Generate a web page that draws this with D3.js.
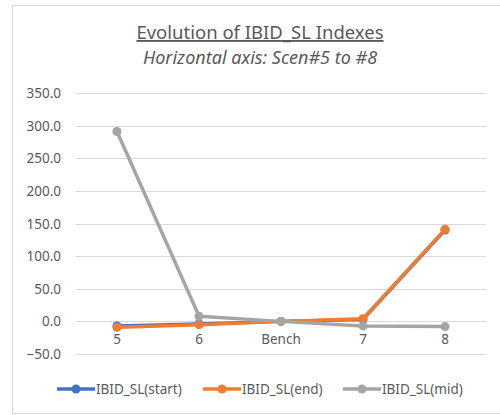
<!DOCTYPE html>
<html>
<head>
<meta charset="utf-8">
<script src="https://cdn.jsdelivr.net/npm/d3@7"></script>
<style>
  body { margin: 0; background: #fff; }
  text { font-family: "Noto Sans", "Open Sans", sans-serif; }
</style>
</head>
<body>
<div id="chart"></div>
<script>
// data
const categories = ["5", "6", "Bench", "7", "8"];
const startValues = [-7, -4, 0, 3, 140];
const endValues = [-9, -5, 0, 4, 141];
const midValues = [291, 8, 0, -7, -8];
const yTicks = [-50, 0, 50, 100, 150, 200, 250, 300, 350];

const series = [
    {name: "IBID_SL(start)", color: "#4472c4", values: startValues},
    {name: "IBID_SL(end)", color: "#ed7d31", values: endValues},
    {name: "IBID_SL(mid)", color: "#a5a5a5", values: midValues}
];

const W = 500, H = 415;
const margin = {top: 93, bottom: 61, left: 76, right: 14};

let svg = d3.select("#chart")
    .append("svg")
    .attr("width", W)
    .attr("height", H);

// chart border
svg.append("rect")
    .attr("x", 12.5).attr("y", 5.5)
    .attr("width", 500).attr("height", 408)
    .attr("fill", "none")
    .attr("stroke", "#d9d9d9");

// titles
svg.append("text")
    .attr("x", 260).attr("y", 39)
    .attr("text-anchor", "middle")
    .attr("font-size", 18.5)
    .attr("fill", "#595959")
    .attr("text-decoration", "underline")
    .text("Evolution of IBID_SL Indexes");

svg.append("text")
    .attr("x", 260).attr("y", 64)
    .attr("text-anchor", "middle")
    .attr("font-size", 18)
    .attr("font-style", "italic")
    .attr("fill", "#595959")
    .text("Horizontal axis: Scen#5 to #8");

let x = d3.scaleBand()
    .domain(categories)
    .range([margin.left, W - margin.right]);

let y = d3.scaleLinear()
    .domain([-50, 350])
    .range([H - margin.bottom, margin.top]);

// gridlines
svg.append("g")
    .selectAll("line")
    .data(yTicks)
    .enter()
    .append("line")
    .attr("x1", margin.left).attr("x2", W - margin.right)
    .attr("y1", d => Math.round(y(d)) + 0.5)
    .attr("y2", d => Math.round(y(d)) + 0.5)
    .attr("stroke", "#d9d9d9")
    .attr("stroke-width", 1);

// y axis labels
svg.append("g")
    .selectAll("text")
    .data(yTicks)
    .enter()
    .append("text")
    .attr("x", 61)
    .attr("y", d => y(d) + 5)
    .attr("text-anchor", "end")
    .attr("font-size", 13.5)
    .attr("fill", "#595959")
    .text(d => d3.format(".1f")(d));

// category labels sit just under the zero line
svg.append("g")
    .selectAll("text")
    .data(categories)
    .enter()
    .append("text")
    .attr("x", d => x(d) + x.bandwidth() / 2)
    .attr("y", y(0) + 23)
    .attr("text-anchor", "middle")
    .attr("font-size", 13.5)
    .attr("fill", "#595959")
    .text(d => d);

let line = d3.line()
    .x((d, i) => x(categories[i]) + x.bandwidth() / 2)
    .y(d => y(d));

series.forEach(s => {
    let g = svg.append("g");
    g.append("path")
        .datum(s.values)
        .attr("d", line)
        .attr("fill", "none")
        .attr("stroke", s.color)
        .attr("stroke-width", 3.5)
        .attr("stroke-linejoin", "round")
        .attr("stroke-linecap", "round");
    g.selectAll("circle")
        .data(s.values)
        .enter()
        .append("circle")
        .attr("cx", (d, i) => x(categories[i]) + x.bandwidth() / 2)
        .attr("cy", d => y(d))
        .attr("r", 4.5)
        .attr("fill", s.color);
});

// legend
const legendX = [57, 203, 343];
let legend = svg.append("g");
series.forEach((s, i) => {
    let lg = legend.append("g").attr("transform", "translate(" + legendX[i] + ",389)");
    lg.append("line")
        .attr("x1", 0).attr("x2", 38)
        .attr("y1", 0).attr("y2", 0)
        .attr("stroke", s.color)
        .attr("stroke-width", 3.5);
    lg.append("circle")
        .attr("cx", 19).attr("cy", 0)
        .attr("r", 4.5)
        .attr("fill", s.color);
    lg.append("text")
        .attr("x", 39).attr("y", 5)
        .attr("font-size", 13.5)
        .attr("fill", "#595959")
        .text(s.name);
});
</script>
</body>
</html>
